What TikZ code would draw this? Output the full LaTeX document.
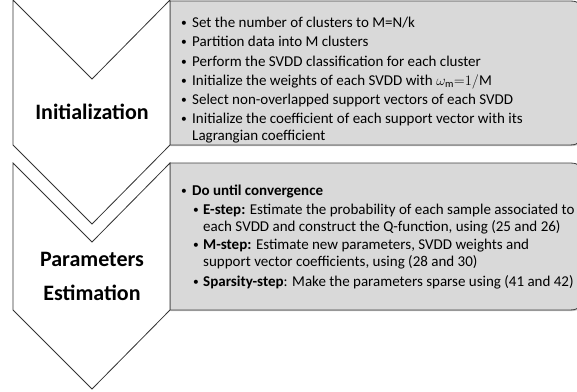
\documentclass[tikz,border=0pt]{standalone}
\usepackage{fontspec}
\setmainfont{Carlito}
\usetikzlibrary{shadows}
\newcommand{\itemdot}[1]{\makebox[#1][l]{\raisebox{0.6pt}{\fontsize{11.5}{11.5}\selectfont\textbullet}}}

\begin{document}
\begin{tikzpicture}
          [x=1pt,y=-1pt,
          chevron/.style={draw=black!80,fill=white,line width=0.8pt,line join=miter},
          panel/.style={draw=black!75,fill=black!15,line width=0.8pt,
            drop shadow={shadow xshift=0.6pt,shadow yshift=-1.2pt,opacity=0.45}},
          title/.style={font=\bfseries\fontsize{22}{34}\selectfont,align=center,anchor=base,inner sep=0pt},
          item/.style={font=\fontsize{15}{17}\selectfont,align=left,anchor=base west,inner sep=0pt}]

          \useasboundingbox (0,0) rectangle (577,391);
          \clip (0,0) rectangle (577,391);

          % grey panels, rounded on the right
          \draw [panel] (170,145) -- (170,1) -- (566,1) .. controls (579,1) .. (579,14)
                -- (579,131) .. controls (579,145) .. (565,145) -- cycle;
          \draw [panel] (170,310) -- (170,163) -- (566,163) .. controls (579,163) .. (579,176)
                -- (579,296) .. controls (579,310) .. (565,310) -- cycle;

          % chevrons
          \draw [chevron] (13,0) -- (92,79) -- (170,0) -- (170,145) -- (92,224) -- (13,145) -- cycle;
          \draw [chevron] (13,163) -- (92,242) -- (170,163) -- (170,310) -- (92,389) -- (13,310) -- cycle;

          % titles (multi-line nodes sit on their last baseline)
          \node (init) [title] at (92,119) {Initialization};
          \node (param) [title] at (92,300) {Parameters\\Estimation};

          % initialization steps
          \node (i1) [item] at (181,27) {\itemdot{11pt}Set the number of clusters to M=N/k};
          \node (i2) [item] at (181,46.5) {\itemdot{11pt}Partition data into M clusters};
          \node (i3) [item] at (181,66) {\itemdot{11pt}Perform the SVDD classification for each cluster};
          \node (i4) [item] at (181,85) {\itemdot{11pt}Initialize the weights of each SVDD with $\omega_{\mathrm{m}}{=}1/\mathrm{M}$};
          \node (i5) [item] at (181,104) {\itemdot{11pt}Select non-overlapped support vectors of each SVDD};
          \node (i6) [item] at (181,140) {\itemdot{11pt}Initialize the coefficient of each support vector with its\\
            \hspace*{11pt}Lagrangian coefficient};

          % estimation loop
          \node (p0) [item] at (181,195) {\itemdot{11pt}\textbf{Do until convergence}};
          \node (p1) [item] at (193,231) {\itemdot{10pt}\textbf{E-step:} Estimate the probability of each sample associated to\\
            \hspace*{10pt}each SVDD and construct the Q-function, using (25 and 26)};
          \node (p2) [item] at (193,266) {\itemdot{10pt}\textbf{M-step:} Estimate new parameters, SVDD weights and\\
            \hspace*{10pt}support vector coefficients, using (28 and 30)};
          \node (p3) [item] at (193,286) {\itemdot{10pt}\textbf{Sparsity-step}: Make the parameters sparse using (41 and 42)};

        \end{tikzpicture}
\end{document}
